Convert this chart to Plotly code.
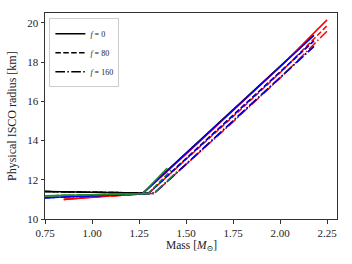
import plotly.graph_objects as go

# ---- data ----
# f = 0 (solid)
black_m0 = [0.75, 1.00, 1.27, 1.50, 1.75, 2.00, 2.18]
black_r0 = [11.40, 11.36, 11.32, 13.36, 15.57, 17.78, 19.37]
blue_m0 = [0.75, 1.00, 1.27, 1.50, 1.75, 2.00, 2.18]
blue_r0 = [11.08, 11.18, 11.30, 13.34, 15.55, 17.76, 19.35]
red_m0 = [0.85, 1.00, 1.27, 1.50, 1.75, 2.00, 2.25]
red_r0 = [11.00, 11.12, 11.30, 13.30, 15.50, 17.75, 20.15]
green_m0 = [0.75, 1.00, 1.27, 1.40]
green_r0 = [11.18, 11.24, 11.30, 12.60]

# f = 80 (dashed)
black_m1 = [0.75, 1.00, 1.30, 1.50, 1.75, 2.00, 2.18]
black_r1 = [11.40, 11.36, 11.32, 13.08, 15.28, 17.48, 19.08]
blue_m1 = [0.75, 1.00, 1.30, 1.50, 1.75, 2.00, 2.18]
blue_r1 = [11.08, 11.18, 11.30, 13.06, 15.27, 17.48, 19.08]
red_m1 = [0.85, 1.00, 1.30, 1.50, 1.75, 2.00, 2.25]
red_r1 = [11.00, 11.12, 11.30, 13.03, 15.22, 17.45, 19.85]
green_m1 = [0.75, 1.00, 1.30, 1.42]
green_r1 = [11.18, 11.24, 11.30, 12.50]

# f = 160 (dash-dot)
black_m2 = [0.75, 1.00, 1.33, 1.50, 1.75, 2.00, 2.18]
black_r2 = [11.40, 11.36, 11.32, 12.80, 15.00, 17.20, 18.80]
blue_m2 = [0.75, 1.00, 1.33, 1.50, 1.75, 2.00, 2.18]
blue_r2 = [11.08, 11.18, 11.30, 12.78, 14.98, 17.19, 18.79]
red_m2 = [0.85, 1.00, 1.33, 1.50, 1.75, 2.00, 2.25]
red_r2 = [11.00, 11.12, 11.30, 12.76, 14.95, 17.18, 19.58]
green_m2 = [0.75, 1.00, 1.33, 1.45]
green_r2 = [11.18, 11.24, 11.30, 12.40]

f_labels = ["0", "80", "160"]
x_ticks = [0.75, 1.00, 1.25, 1.50, 1.75, 2.00, 2.25]
y_ticks = [10, 12, 14, 16, 18, 20]

DASHES = ["solid", "5.5px,2.4px", "9.6px,2.4px,1.5px,2.4px"]
COLORS = {"black": "#000000", "red": "#ff0000", "blue": "#0000ff", "green": "#228b22"}

sets = [
    [("black", black_m0, black_r0), ("red", red_m0, red_r0), ("blue", blue_m0, blue_r0), ("green", green_m0, green_r0)],
    [("black", black_m1, black_r1), ("red", red_m1, red_r1), ("blue", blue_m1, blue_r1), ("green", green_m1, green_r1)],
    [("black", black_m2, black_r2), ("red", red_m2, red_r2), ("blue", blue_m2, blue_r2), ("green", green_m2, green_r2)],
]

fig = go.Figure()
for order in ["black", "red", "blue", "green"]:
    for i, s in enumerate(sets):
        for name, m, r in s:
            if name != order:
                continue
            fig.add_trace(go.Scatter(
                x=m, y=r, mode="lines", showlegend=False, hoverinfo="skip",
                line=dict(color=COLORS[name], width=1.5, dash=DASHES[i]),
            ))

for i, lab in enumerate(f_labels):
    fig.add_trace(go.Scatter(
        x=[None], y=[None], mode="lines", name=f"<i>f</i> = {lab}",
        line=dict(color="black", width=1.5, dash=DASHES[i]),
    ))

SERIF = "'Liberation Serif', 'DejaVu Serif', serif"
fig.update_layout(
    width=352, height=264,
    margin=dict(l=45, r=15, t=13, b=45, autoexpand=False),
    paper_bgcolor="white", plot_bgcolor="white",
    font=dict(family=SERIF, size=11, color="#222"),
    legend=dict(
        x=0.015, y=0.975, xanchor="left", yanchor="top",
        bgcolor="rgba(255,255,255,0.9)", bordercolor="#cccccc", borderwidth=1,
        font=dict(family=SERIF, size=8), tracegroupgap=0, itemwidth=30,
    ),
    xaxis=dict(
        range=[0.75, 2.303], tickvals=x_ticks, ticktext=[f"{v:.2f}" for v in x_ticks],
        tickfont=dict(family=SERIF, size=11),
        showgrid=False, zeroline=False, showline=True, linecolor="#333", linewidth=1,
        mirror=True, ticks="outside", ticklen=3.5, tickcolor="#333", automargin=False,
    ),
    yaxis=dict(
        range=[10, 20.5], tickvals=y_ticks,
        tickfont=dict(family=SERIF, size=11),
        showgrid=False, zeroline=False, showline=True, linecolor="#333", linewidth=1,
        mirror=True, ticks="outside", ticklen=3.5, tickcolor="#333", automargin=False,
    ),
    annotations=[
        dict(text="Mass [<i>M</i><sub>⊙</sub>]", xref="paper", yref="paper",
             x=0.5, y=-0.085, xanchor="center", yanchor="top", showarrow=False,
             font=dict(family=SERIF, size=11.5, color="#222")),
        dict(text="Physical ISCO radius [km]", xref="paper", yref="paper",
             x=-0.113, y=0.5, xanchor="center", yanchor="middle", textangle=-90,
             showarrow=False, font=dict(family=SERIF, size=12, color="#222")),
    ],
)

fig.write_html("out.html", config={"displayModeBar": False},
               post_script="document.body.style.margin='0';")
